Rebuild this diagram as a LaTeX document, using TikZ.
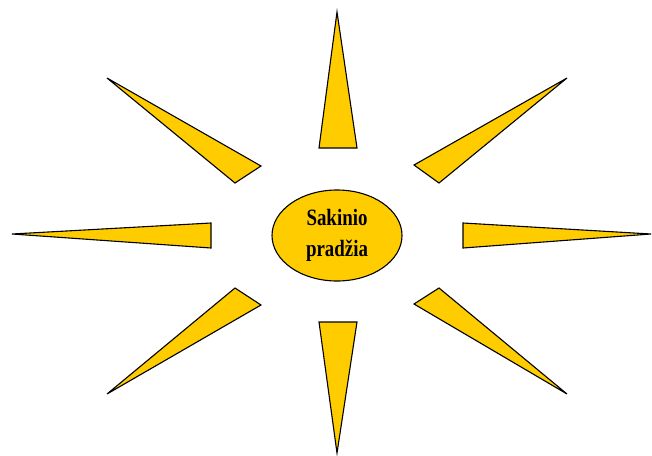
\documentclass[tikz,border=0pt]{standalone}
\usepackage{fontspec}
\setmainfont{Liberation Serif}
\usepackage{xcolor}
\usetikzlibrary{shapes.geometric}
\definecolor{sungold}{HTML}{FFCC00}
\tikzset{
  ray/.style={draw=black, fill=sungold, line width=1.1pt, line join=miter},
  core/.style={ellipse, draw=black, fill=sungold, line width=1.1pt, align=center,
    minimum width=130pt, minimum height=91pt, inner sep=0pt,
    font=\bfseries\fontsize{18}{31}\selectfont}
}
\begin{document}
\begin{tikzpicture}[x=1pt, y=-1pt]
  \useasboundingbox (0,0) rectangle (652,455);
  % rays
  \filldraw[ray] (319,148) -- (357,148) -- (337,12) -- cycle;
  \filldraw[ray] (319,322) -- (357,322) -- (337,453) -- cycle;
  \filldraw[ray] (211,223) -- (211,248) -- (12,234) -- cycle;
  \filldraw[ray] (463,223) -- (463,248) -- (651,234) -- cycle;
  \filldraw[ray] (261,166) -- (235,183) -- (107,78) -- cycle;
  \filldraw[ray] (414,165) -- (439,183) -- (567,78) -- cycle;
  \filldraw[ray] (235,288) -- (261,305) -- (107,394) -- cycle;
  \filldraw[ray] (439,288) -- (414,304) -- (567,394) -- cycle;
  % centre
  \node[core] (start) at (337,235.5) {\scalebox{1.05}[1.3]{Sakinio}\\\scalebox{1.05}[1.3]{pradžia}};
\end{tikzpicture}
\end{document}
